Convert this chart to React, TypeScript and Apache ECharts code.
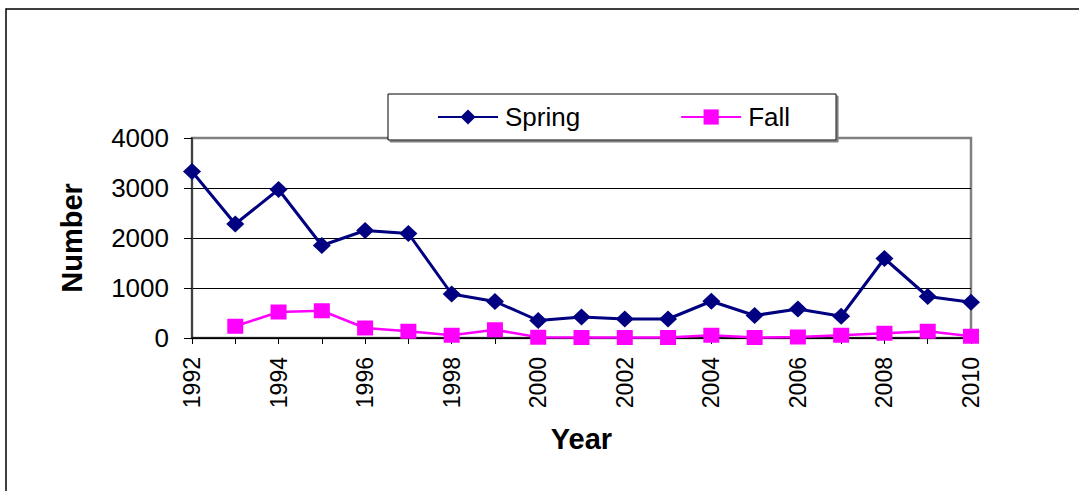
import React, { useEffect, useRef } from "react";
import * as echarts from "echarts";

const years = ["1992","1993","1994","1995","1996","1997","1998","1999","2000","2001","2002","2003","2004","2005","2006","2007","2008","2009","2010"];
const spring = [3330, 2280, 2970, 1850, 2150, 2090, 880, 730, 350, 420, 380, 380, 735, 450, 580, 435, 1590, 830, 715];
const fall: (number | null)[] = [null, 235, 520, 545, 200, 135, 55, 165, 15, 10, 10, 10, 55, 10, 20, 55, 95, 135, 35];
const yTicks = [0, 1000, 2000, 3000, 4000];

export default function App() {
  const ref = useRef<HTMLDivElement>(null);
  useEffect(() => {
    if (!ref.current) return;
    const chart = echarts.init(ref.current, null, { renderer: "svg" });
    const font = "'Liberation Sans', Arial, sans-serif";
    chart.setOption({
      animation: false,
      backgroundColor: "#ffffff",
      textStyle: { fontFamily: font },
      graphic: [
        {
          type: "rect",
          shape: { x: 6, y: 9, width: 1090, height: 500 },
          style: { fill: "none", stroke: "#000", lineWidth: 1.5 },
          z: -1,
        },
      ],
      grid: {
        left: 192,
        right: 108,
        top: 138,
        bottom: 153,
        show: true,
        borderColor: "#808080",
        borderWidth: 2.5,
        backgroundColor: "transparent",
      },
      legend: {
        left: 388,
        top: 94,
        orient: "horizontal",
        itemWidth: 60,
        itemHeight: 19,
        itemGap: 100,
        padding: [10, 46, 10, 49],
        backgroundColor: "#ffffff",
        borderColor: "#000000",
        borderWidth: 1,
        shadowColor: "#808080",
        shadowOffsetX: 2,
        shadowOffsetY: 2,
        shadowBlur: 0,
        textStyle: { fontSize: 26, color: "#000", fontFamily: font, padding: [0, 0, 0, 2] },
        data: ["Spring", "Fall"],
      },
      xAxis: {
        type: "category",
        data: years,
        boundaryGap: false,
        name: "Year",
        nameLocation: "middle",
        nameGap: 86,
        nameTextStyle: { fontSize: 29, fontWeight: "bold", color: "#000", fontFamily: font },
        axisLine: { lineStyle: { color: "#000", width: 1.5 } },
        axisTick: { show: true, interval: 0, length: 6, lineStyle: { color: "#000" } },
        axisLabel: {
          interval: 1,
          rotate: 90,
          margin: 19,
          fontSize: 23,
          color: "#000",
          fontFamily: font,
        },
        splitLine: { show: false },
      },
      yAxis: {
        type: "value",
        min: 0,
        max: 4000,
        interval: 1000,
        name: "Number",
        nameLocation: "middle",
        nameRotate: 90,
        nameGap: 106,
        nameTextStyle: { fontSize: 29, fontWeight: "bold", color: "#000", fontFamily: font },
        axisLine: { show: true, lineStyle: { color: "#404040", width: 2 } },
        axisTick: { show: true, length: 8, lineStyle: { color: "#000" } },
        axisLabel: {
          margin: 23,
          fontSize: 26,
          color: "#000",
          fontFamily: font,
          formatter: (v: number) => (yTicks.includes(v) ? String(v) : ""),
        },
        splitLine: { show: true, showMaxLine: false, lineStyle: { color: "#000", width: 1 } },
      },
      series: [
        {
          name: "Spring",
          type: "line",
          data: spring,
          symbol: "diamond",
          symbolSize: [18, 17],
          lineStyle: { color: "#000080", width: 3 },
          itemStyle: { color: "#000080" },
          z: 3,
        },
        {
          name: "Fall",
          type: "line",
          data: fall,
          symbol: "rect",
          symbolSize: [16, 15],
          connectNulls: false,
          lineStyle: { color: "#FF00FF", width: 2.5 },
          itemStyle: { color: "#FF00FF" },
          z: 4,
        },
      ],
    });
    return () => chart.dispose();
  }, []);
  return (
    <div
      ref={ref}
      style={{ position: "fixed", left: 0, top: 0, width: 1079, height: 491, background: "#fff" }}
    />
  );
}
